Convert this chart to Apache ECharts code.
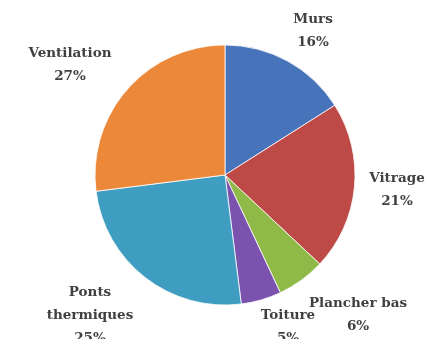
<!DOCTYPE html>
<html>
<head>
<meta charset="utf-8">
<script src="https://cdn.jsdelivr.net/npm/echarts@6/dist/echarts.min.js"></script>
<style>
  html, body { margin: 0; padding: 0; background: #fff; }
  #chart { width: 428px; height: 339px; }
</style>
</head>
<body>
<div id="chart"></div>
<script>
// Répartition des déperditions thermiques (%)
var categories = ['Murs', 'Vitrage', 'Plancher bas', 'Toiture', 'Ponts thermiques', 'Ventilation'];
var values = [16, 21, 6, 5, 25, 27];
var labelTexts = ['Murs\n16%', 'Vitrage\n21%', 'Plancher bas\n6%', 'Toiture\n5%', 'Ponts\nthermiques\n25%', 'Ventilation\n27%'];

var colors = ['#4673BA', '#BD4A47', '#8FBA47', '#7B52AE', '#3E9DC1', '#EB883A'];
// label anchor (top-centre of first line) for each slice
var labelAnchors = [[313, 8], [397, 167], [358, 292], [288, 304], [90, 281], [70, 42]];

var chart = echarts.init(document.getElementById('chart'), null, { renderer: 'canvas' });

var data = categories.map(function (c, i) {
  return {
    name: c,
    value: values[i],
    itemStyle: { color: colors[i] },
    label: { formatter: labelTexts[i] }
  };
});

chart.setOption({
  animation: false,
  backgroundColor: '#ffffff',
  series: [{
    type: 'pie',
    center: [225, 175],
    radius: 130,
    startAngle: 90,
    clockwise: true,
    avoidLabelOverlap: false,
    itemStyle: { borderColor: '#ffffff', borderWidth: 0.8 },
    label: {
      show: true,
      position: 'outside',
      color: '#404040',
      fontFamily: 'DejaVu Serif',
      fontWeight: 'bold',
      fontSize: 13.5,
      lineHeight: 23,
      align: 'center'
    },
    labelLine: { show: false },
    labelLayout: function (p) {
      var a = labelAnchors[p.dataIndex];
      return { x: a[0], y: a[1], align: 'center', verticalAlign: 'top', hideOverlap: false, moveOverlap: null };
    },
    data: data
  }]
});
</script>
</body>
</html>
